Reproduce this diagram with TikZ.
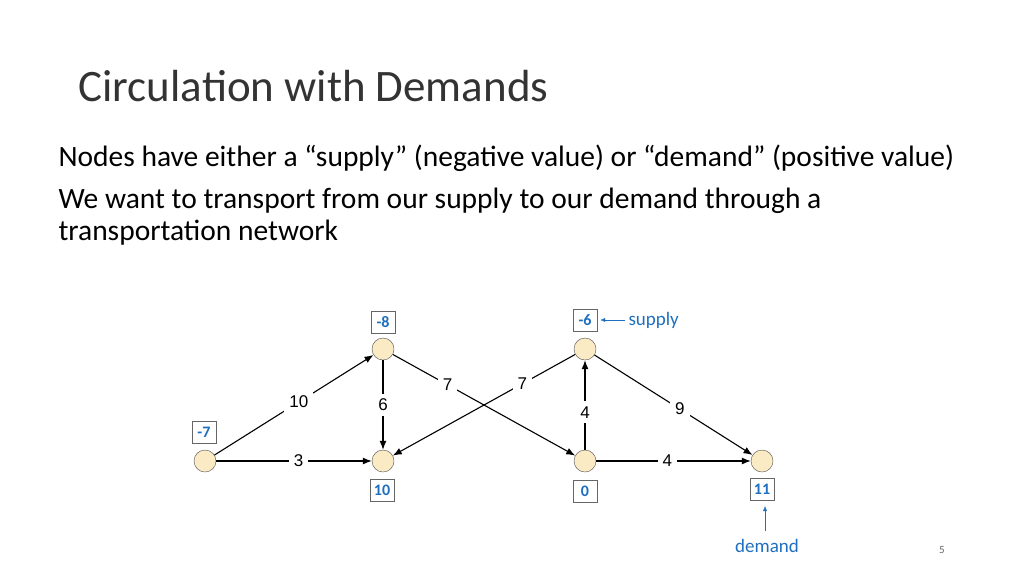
\documentclass[tikz,border=0pt]{standalone}
\usepackage{fontspec}
\setmainfont{Carlito}
\newfontfamily\arialf{Liberation Sans}
\definecolor{nodefill}{HTML}{FBEBC4}
\definecolor{blu}{HTML}{1F6FC0}
\begin{document}
\begin{tikzpicture}[x=1pt,y=-1pt,
  vert/.style={circle,draw=black!70,fill=nodefill,minimum size=22pt,inner sep=0pt},
  val/.style={draw=black!60,fill=white,text=blu,font=\bfseries\fontsize{16}{18}\selectfont,minimum width=24pt,minimum height=22pt,inner sep=1pt},
  arr/.style={-{Latex[length=9pt,width=7pt]},line width=1.1pt},
  lbl/.style={fill=white,inner sep=5pt,font=\arialf\fontsize{17}{19}\selectfont}]
\usetikzlibrary{arrows.meta}
\useasboundingbox (0,0) rectangle (1024,576);
\node[anchor=west,font=\fontsize{45}{52}\selectfont,text=black!80] (title) at (75,86) {Circulation with Demands};
\node[anchor=west,font=\fontsize{29.5}{34}\selectfont] (l1) at (55,158) {Nodes have either a “supply” (negative value) or “demand” (positive value)};
\node[anchor=west,font=\fontsize{29.5}{34}\selectfont] (l2) at (55,201) {We want to transport from our supply to our demand through a};
\node[anchor=west,font=\fontsize{29.5}{34}\selectfont] (l3) at (55,233) {transportation network};
\node[vert] (A) at (205,461) {};
\node[vert] (B) at (383,349) {};
\node[vert] (C) at (383,461) {};
\node[vert] (D) at (585,349) {};
\node[vert] (E) at (585,461) {};
\node[vert] (F) at (762,461) {};
\draw[arr] (A) -- node[lbl,pos=0.53]{10} (B);
\draw[arr] (A) -- node[lbl,pos=0.53]{3} (C);
\draw[arr] (B) -- node[lbl,pos=0.5]{6} (C);
\draw[arr] (B) -- node[lbl,pos=0.3]{7} (E);
\draw[arr] (D) -- node[lbl,pos=0.29]{7} (C);
\draw[arr] (E) -- node[lbl,pos=0.42]{4} (D);
\draw[arr] (D) -- node[lbl,pos=0.54]{9} (F);
\draw[arr] (E) -- node[lbl,pos=0.46]{4} (F);
\node[val] (vB) at (383,322) {-8};
\node[val] (vA) at (204,432) {-7};
\node[val] (vC) at (382,490) {10};
\node[val] (vD) at (585,320) {-6};
\node[val] (vE) at (585,491) {0};
\node[val] (vF) at (762,489) {11};
\node[text=blu,font=\fontsize{19}{22}\selectfont,anchor=west] (sup) at (625,320) {supply};
\draw[blu,-{Latex[length=5pt,width=4pt]},thin] (sup.west) -- ([xshift=3pt]vD.east);
\node[text=blu,font=\fontsize{19}{22}\selectfont] (dem) at (767,546) {demand};
\coordinate (d0) at (765,531);
\coordinate (d1) at (765,506);
\draw[blu,-{Latex[length=5pt,width=4pt]},thin] (d0) -- (d1);
\node[text=black!60,font=\fontsize{11}{13}\selectfont] (pg) at (942,550) {5};
\end{tikzpicture}
\end{document}
